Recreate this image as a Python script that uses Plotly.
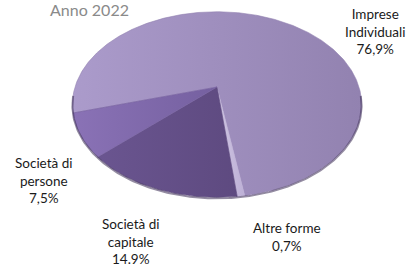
import numpy as np
import plotly.graph_objects as go

# ---- data ----
categories = ["Imprese Individuali", "Altre forme", "Società di capitale", "Società di persone"]
values = [76.9, 0.7, 14.9, 7.5]
label_texts = ["Imprese<br>Individuali<br>76,9%", "Altre forme<br>0,7%",
               "Società di<br>capitale<br>14.9%", "Società di<br>persone<br>7,5%"]
title_text = "Anno 2022"

# ---- style ----
slice_colors = [("#AB9BCB", "#9282B0"), ("#CFC5E2", "#BDB0D6"),
                ("#6A5590", "#5E4A80"), ("#8A72B6", "#7560A0")]
label_pos = [(375, 31), (287, 237), (131, 241), (44, 180)]

W, H = 411, 266
CX, CY = 217, 87          # apex of the pie (projected centre)
RA, RB, G = 142.0, 89.5, 0.189   # perspective ellipse parameters
START = 196.0             # degrees, slices run clockwise


def proj(t):
    u, v = np.cos(t), np.sin(t)
    d = 1 + G * v
    return CX + RA * u / d, CY - RB * v / d


fig = go.Figure()
total = sum(values)
ang = START
for cat, val, (c1, c2) in zip(categories, values, slice_colors):
    span = 360.0 * val / total
    n = max(int(span * 2), 4)
    ts = np.radians(np.linspace(ang, ang - span, n))
    ex, ey = proj(ts)
    xs = np.concatenate([[CX], ex, [CX]])
    ys = np.concatenate([[CY], ey, [CY]])
    fig.add_trace(go.Scatter(
        x=xs, y=ys, mode="lines", fill="toself",
        fillgradient=dict(type="horizontal", colorscale=[[0, c1], [1, c2]]),
        line=dict(color=c2, width=0.6),
        name=cat, hoverinfo="name", showlegend=False))
    ang -= span

# dark rim along the lower edge
tr = np.radians(np.linspace(-5, -175, 200))
rx, ry = proj(tr)
fig.add_trace(go.Scatter(x=rx, y=ry + 1, mode="lines",
                         line=dict(color="rgba(60,45,85,0.55)", width=2),
                         hoverinfo="skip", showlegend=False))

for txt, (lx, ly) in zip(label_texts, label_pos):
    fig.add_annotation(x=lx, y=ly, xref="x", yref="y", text=txt, showarrow=False,
                       font=dict(family="Lato, Open Sans, sans-serif", size=13.5, color="#1a1a1a"),
                       align="center", xanchor="center", yanchor="middle")

fig.add_annotation(x=89, y=9, xref="x", yref="y", text=title_text, showarrow=False,
                   font=dict(family="Lato, Open Sans, sans-serif", size=16, color="#8a8a8a"),
                   xanchor="center", yanchor="middle")

fig.update_layout(
    width=W, height=H, margin=dict(l=0, r=0, t=0, b=0),
    paper_bgcolor="white", plot_bgcolor="white",
    xaxis=dict(range=[0, W], visible=False, fixedrange=True),
    yaxis=dict(range=[H, 0], visible=False, fixedrange=True),
)
fig.write_html("out.html", config={"displayModeBar": False},
               post_script="document.body.style.margin='0';document.body.style.overflow='hidden';")
